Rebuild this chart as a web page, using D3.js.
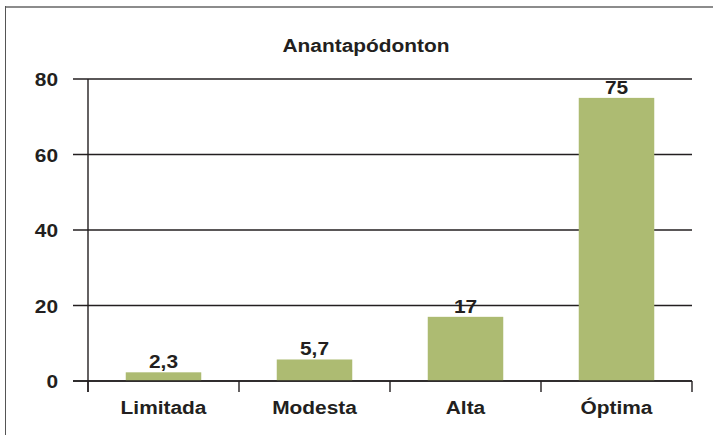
<!DOCTYPE html>
<html>
<head>
<meta charset="utf-8">
<script src="https://cdn.jsdelivr.net/npm/d3@7"></script>
<style>
  body { margin: 0; background: #fff; }
  text { font-family: "Liberation Sans", Arial, sans-serif; font-weight: bold; fill: #231f20; }
</style>
</head>
<body>
<script>
// Chart data
var categories = ["Limitada", "Modesta", "Alta", "Óptima"];
var values = [2.3, 5.7, 17, 75];
var valueLabels = ["2,3", "5,7", "17", "75"];
var yTicks = [0, 20, 40, 60, 80];
var title = "Anantapódonton";

var svgWidth = 713;
var svgHeight = 435;
var margin = { top: 79, right: 21, bottom: 54, left: 88 };
var chartWidth = svgWidth - margin.left - margin.right;
var chartHeight = svgHeight - margin.top - margin.bottom;
var stretch = 1.16; // the source text is a bit wider than Arial

var svg = d3.select("body")
  .append("svg")
  .attr("width", svgWidth)
  .attr("height", svgHeight);

// frame (top and left edges only)
svg.append("line").attr("x1", 5).attr("x2", svgWidth).attr("y1", 7).attr("y2", 7)
  .attr("stroke", "#8c8c8c").attr("stroke-width", 2);
svg.append("line").attr("x1", 5.5).attr("x2", 5.5).attr("y1", 6).attr("y2", svgHeight)
  .attr("stroke", "#555").attr("stroke-width", 1);

function addText(parent, x, y, str, size, anchor) {
  return parent.append("g")
    .attr("transform", `translate(${x},${y}) scale(${stretch},1)`)
    .append("text")
    .attr("text-anchor", anchor || "middle")
    .style("font-size", size + "px")
    .text(str);
}

addText(svg, 366, 52, title, 18);

var chartGroup = svg.append("g")
  .attr("transform", `translate(${margin.left}, ${margin.top})`);

var xBandScale = d3.scaleBand()
  .domain(categories)
  .range([0, chartWidth])
  .paddingInner(0.5)
  .paddingOuter(0.25);

var yLinearScale = d3.scaleLinear()
  .domain([0, 80])
  .range([chartHeight, 0]);

// gridlines with left tick stubs
chartGroup.selectAll(".grid")
  .data(yTicks)
  .enter()
  .append("line")
  .attr("x1", -15)
  .attr("x2", chartWidth)
  .attr("y1", d => yLinearScale(d))
  .attr("y2", d => yLinearScale(d))
  .attr("stroke", "#231f20")
  .attr("stroke-width", 1.4);

// y labels
yTicks.forEach(function(t) {
  addText(chartGroup, -30, yLinearScale(t) + 7, t, 18, "end");
});

// y axis line
chartGroup.append("line")
  .attr("x1", 0).attr("x2", 0)
  .attr("y1", 0).attr("y2", chartHeight + 11)
  .attr("stroke", "#231f20").attr("stroke-width", 1.4);

// category boundary ticks
var step = xBandScale.step();
var edges = d3.range(categories.length + 1).map(i => i * step);
chartGroup.selectAll(".xtick")
  .data(edges)
  .enter()
  .append("line")
  .attr("x1", d => d).attr("x2", d => d)
  .attr("y1", chartHeight).attr("y2", chartHeight + 11)
  .attr("stroke", "#231f20").attr("stroke-width", 1.4);

// bars
chartGroup.selectAll(".bar")
  .data(values)
  .enter()
  .append("rect")
  .attr("class", "bar")
  .attr("x", (d, i) => xBandScale(categories[i]))
  .attr("y", d => yLinearScale(d))
  .attr("width", xBandScale.bandwidth())
  .attr("height", d => chartHeight - yLinearScale(d))
  .attr("fill", "#adbb72");

// redraw the baseline over the bars
chartGroup.append("line")
  .attr("x1", -15).attr("x2", chartWidth)
  .attr("y1", chartHeight).attr("y2", chartHeight)
  .attr("stroke", "#231f20").attr("stroke-width", 1.4);

// value labels
values.forEach(function(v, i) {
  var cx = xBandScale(categories[i]) + xBandScale.bandwidth() / 2;
  addText(chartGroup, cx, yLinearScale(v) - 4, valueLabels[i], 18);
});

// category labels
categories.forEach(function(c) {
  var cx = xBandScale(c) + xBandScale.bandwidth() / 2;
  addText(chartGroup, cx, chartHeight + 33, c, 18);
});
</script>
</body>
</html>
